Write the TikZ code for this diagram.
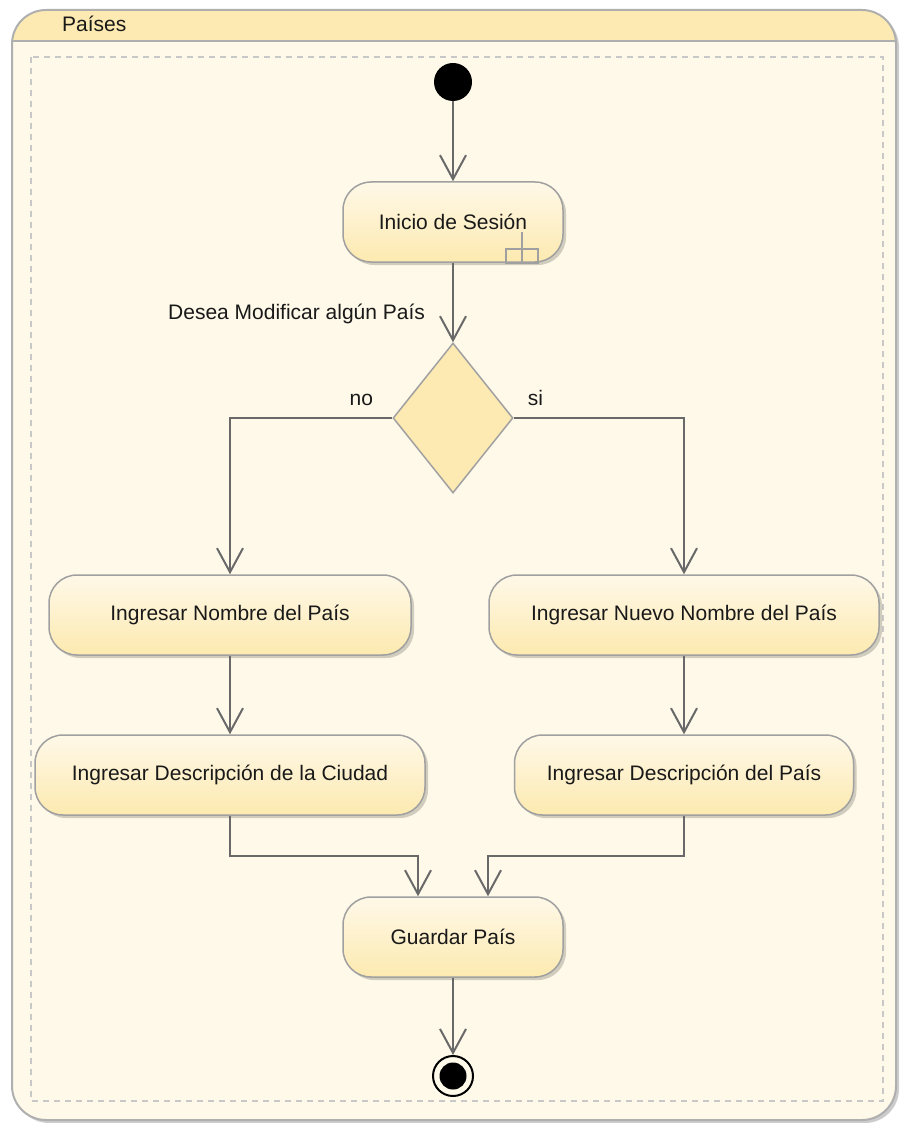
\documentclass[tikz,border=0pt]{standalone}
\usepackage{fontspec}
\setmainfont{Liberation Sans}
\usetikzlibrary{shapes.geometric,arrows.meta,shadows}
\definecolor{frameback}{RGB}{254,249,233}
\definecolor{headfill}{RGB}{253,234,178}
\definecolor{framegray}{RGB}{175,175,175}
\definecolor{dashgray}{RGB}{200,200,200}
\definecolor{nodetop}{RGB}{254,248,232}
\definecolor{nodebot}{RGB}{253,234,176}
\definecolor{nodeline}{RGB}{160,160,160}
\definecolor{flowline}{RGB}{105,105,105}
\definecolor{textgray}{RGB}{25,25,25}

\begin{document}
\begin{tikzpicture}[x=1pt,y=-1pt,font=\fontsize{21}{25}\selectfont,text=textgray,
  action/.style={draw=nodeline,line width=1.5pt,rounded corners=28pt,top color=nodetop,bottom color=nodebot,minimum height=80pt,
    drop shadow={shadow xshift=3pt,shadow yshift=-3pt,fill=black,opacity=0.18}},
  decision/.style={diamond,draw=nodeline,line width=1.5pt,fill=headfill,minimum width=120pt,minimum height=150pt,inner sep=0pt},
  start/.style={circle,fill=black,minimum size=38pt,inner sep=0pt},
  finalring/.style={circle,draw=black,line width=2pt,fill=frameback,minimum size=40pt,inner sep=0pt},
  finaldot/.style={circle,fill=black,minimum size=27pt,inner sep=0pt},
  flow/.style={draw=flowline,line width=2pt,-{Straight Barb[length=24pt,width=26pt,line width=2pt]}},
  rake/.style={draw=nodeline,line width=1.5pt}]
\useasboundingbox (0,0) rectangle (899,1123);
\fill[frameback,rounded corners=34pt,drop shadow={shadow xshift=3pt,shadow yshift=-3pt,fill=black,opacity=0.2}] (12,10) rectangle (896,1120);
\begin{scope}
\clip[rounded corners=34pt] (12,10) rectangle (896,1120);
\fill[headfill] (12,10) rectangle (896,41);
\end{scope}
\draw[framegray,line width=2pt] (12,41) -- (896,41);
\draw[framegray,line width=2pt,rounded corners=34pt] (12,10) rectangle (896,1120);
\node[anchor=west,inner sep=0pt] (tit) at (62,24) {Países};
\draw[dashgray,line width=1.5pt,dash pattern=on 6pt off 5pt] (31,57) rectangle (883,1101);

\node[start] (ini) at (453,82) {};
\node[action,minimum width=220pt] (ses) at (453,222) {Inicio de Sesión};
\draw[rake] ([xshift=-58pt]ses.south east) rectangle ([xshift=-26pt,yshift=14pt]ses.south east);
\draw[rake] ([xshift=-42pt]ses.south east) -- ([xshift=-42pt,yshift=31pt]ses.south east);
\node[decision] (dec) at (453,418) {};
\node[action,minimum width=362pt] (nom) at (230,615) {Ingresar Nombre del País};
\node[action,minimum width=390pt] (nue) at (684,615) {Ingresar Nuevo Nombre del País};
\node[action,minimum width=390pt] (dci) at (230,775) {Ingresar Descripción de la Ciudad};
\node[action,minimum width=339pt] (dpa) at (684,775) {Ingresar Descripción del País};
\node[action,minimum width=220pt] (gua) at (453,937) {Guardar País};
\node[finalring] (fin) at (453,1076) {};
\node[finaldot] (fdot) at (fin) {};

\draw[flow] (ini) -- (ses);
\draw[flow] (ses) -- node[pos=0.64,left=24pt,inner sep=3pt] (preg) {Desea Modificar algún País} (dec);
\draw[flow] (dec.west) -| node[pos=0.095,above=8pt] (no) {no} (nom.north);
\draw[flow] (dec.east) -| node[pos=0.064,above=8pt] (si) {si} (nue.north);
\draw[flow] (nom) -- (dci);
\draw[flow] (nue) -- (dpa);
\draw[flow] (dci.south) -- ++(0,40) -| ([xshift=-35pt]gua.north);
\draw[flow] (dpa.south) -- ++(0,40) -| ([xshift=35pt]gua.north);
\draw[flow] (gua) -- (fin);
\end{tikzpicture}
\end{document}
